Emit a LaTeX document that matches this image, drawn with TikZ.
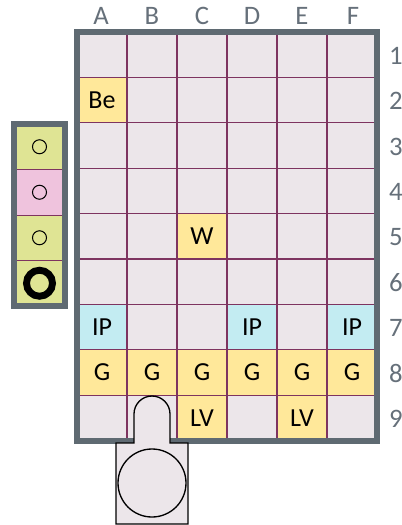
\documentclass[tikz,border=0pt]{standalone}
\usepackage{fontspec}
\setmainfont{Carlito}
\definecolor{cellbg}{HTML}{ECE6EA}
\definecolor{gridc}{HTML}{7E3460}
\definecolor{framec}{HTML}{5F6A72}
\definecolor{yel}{HTML}{FFE89A}
\definecolor{cya}{HTML}{C3ECF2}
\definecolor{pgreen}{HTML}{DFE494}
\definecolor{ppink}{HTML}{EFC3DD}
\definecolor{axisc}{HTML}{66707A}
\begin{document}
\begin{tikzpicture}[x=0.75pt,y=-0.75pt,
  spec/.style={inner sep=0pt, minimum width=37.5pt, minimum height=34.05pt, font=\fontsize{19.5}{21}\selectfont},
  ycell/.style={spec, fill=yel},
  ccell/.style={spec, fill=cya},
  axislab/.style={text=axisc, inner sep=0pt, font=\fontsize{20}{22}\selectfont},
  gline/.style={draw=gridc, line width=0.8pt},
  frameline/.style={draw=framec, line width=4.5pt},
  pcell/.style={inner sep=0pt, minimum width=38.25pt, minimum height=34.1pt},
  smallring/.style={draw=black, line width=0.8pt},
  bigring/.style={draw=black, line width=5.2pt},
  plug/.style={draw=black, line width=1pt, fill=cellbg}]
\useasboundingbox (0,0) rectangle (401,525);
% column and row labels
\foreach \c/\x in {A/101,B/152,C/202,D/252,E/302,F/353}
  \node[axislab] (col\c) at (\x,15.5) {\c};
\foreach \r in {1,...,9}
  \node[axislab] (row\r) at (396,{33+45.4*(\r-0.5)}) {\r};
% grid background
\fill[cellbg] (77,32) rectangle (377,440.6);
% special cells
\node[ycell] (A2) at (102,100.1) {Be};
\node[ycell] (C5) at (202,236.3) {W};
\node[ccell] (A7) at (102,327.1) {IP};
\node[ccell] (D7) at (252,327.1) {IP};
\node[ccell] (F7) at (352,327.1) {IP};
\foreach \c/\x in {A/102,B/152,C/202,D/252,E/302,F/352}
  \node[ycell] (\c8) at (\x,372.5) {G};
\node[ycell] (C9) at (202,417.9) {LV};
\node[ycell] (E9) at (302,417.9) {LV};
% grid lines
\foreach \x in {127,177,227,277,327}
  \draw[gline] (\x,32) -- (\x,440.6);
\foreach \r in {1,...,8}
  \draw[gline] (77,{32+45.4*\r}) -- (377,{32+45.4*\r});
% frame
\draw[frameline] (77,32) rectangle (377,440.6);
% left panel
\node[pcell, fill=pgreen] (p1) at (39.5,146.75) {};
\node[pcell, fill=ppink] (p2) at (39.5,192.25) {};
\node[pcell, fill=pgreen] (p3) at (39.5,237.75) {};
\node[pcell, fill=pgreen] (p4) at (39.5,283.25) {};
\draw[gline, line width=0.6pt] (p1.south west) -- (p1.south east);
\draw[gline, line width=0.6pt] (p2.south west) -- (p2.south east);
\draw[gline, line width=0.6pt] (p3.south west) -- (p3.south east);
\draw[smallring] (p1.center) circle[radius=7];
\draw[smallring] (p2.center) circle[radius=7];
\draw[smallring] (p3.center) circle[radius=7];
\draw[bigring] (p4.center) circle[radius=13];
\draw[frameline] (14,124) rectangle (65,306);
% plug at the bottom
\draw[plug] (116,524) -- (116,443) -- (134,443) -- (134,414)
  arc[start angle=180, end angle=360, radius=18] -- (170,443) -- (188,443) -- (188,524) -- cycle;
\draw[black, line width=1pt] (152,483) circle[radius=34];
\end{tikzpicture}
\end{document}
